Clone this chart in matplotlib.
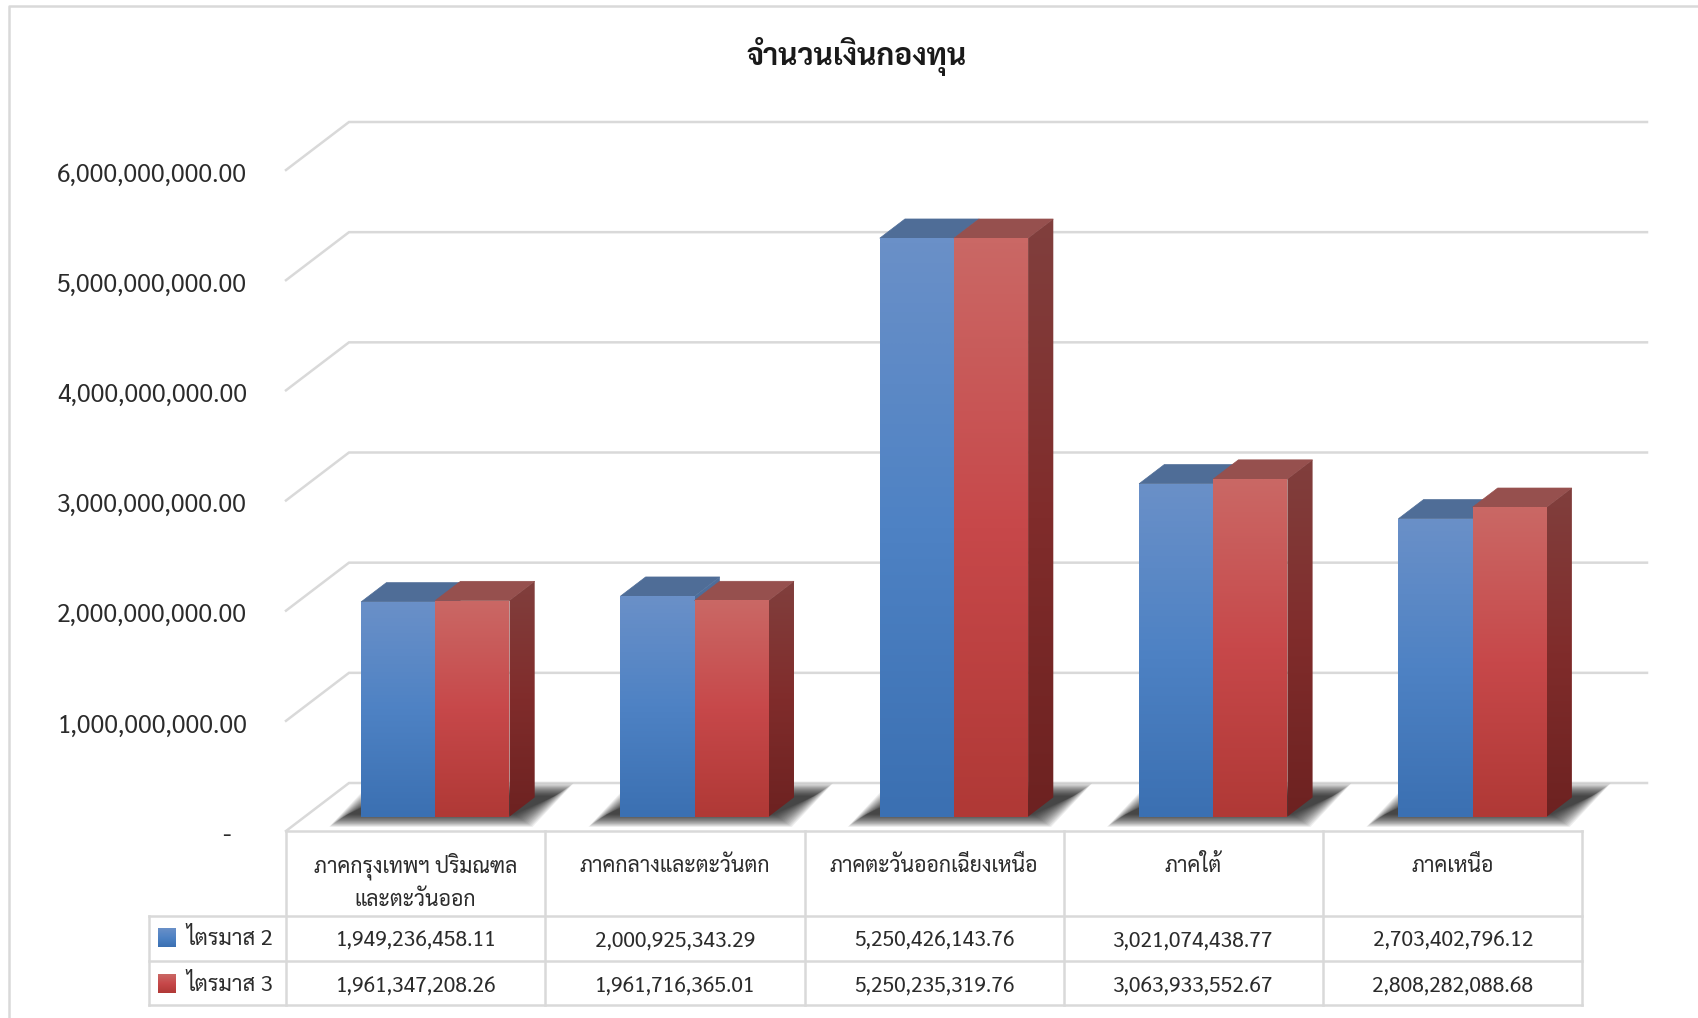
import numpy as np
import matplotlib
matplotlib.use('Agg')
import matplotlib.pyplot as plt
from matplotlib.colors import LinearSegmentedColormap
from matplotlib.patches import Polygon
from matplotlib.ticker import FuncFormatter
from matplotlib.transforms import ScaledTranslation

plt.rcParams['font.family'] = ['Sarabun', 'Loma', 'DejaVu Sans']

title = 'จำนวนเงินกองทุน'
categories = [['ภาคกรุงเทพฯ ปริมณฑล', 'และตะวันออก'], ['ภาคกลางและตะวันตก'],
              ['ภาคตะวันออกเฉียงเหนือ'], ['ภาคใต้'], ['ภาคเหนือ']]
series_names = ['ไตรมาส 2', 'ไตรมาส 3']
q2 = [1949236458.11, 2000925343.29, 5250426143.76, 3021074438.77, 2703402796.12]
q3 = [1961347208.26, 1961716365.01, 5250235319.76, 3063933552.67, 2808282088.68]
yticks = [0, 1e9, 2e9, 3e9, 4e9, 5e9, 6e9]

W, H = 1699, 1018
GRID = '#d9d9d9'
TXT = '#2b2b2b'
BLUE = ['#6a90c8', '#4e82c4', '#3b70b2']
RED = ['#ca6865', '#c7484a', '#b03936']
BLUE_SIDE = ['#4f6f9c', '#3f628f']
RED_SIDE = ['#813f3d', '#802c2b', '#6d2221']
TOPS = ['#4f6d97', '#96504e']

# pixel layout
x0, x1 = 286, 1647      # floor front left, right end of the back wall
cat_w = 259.3
y0, y6 = 831, 170       # value 0 and 6e9 on the front edge
px_per_val = (y0 - y6) / 6e9
top_px = 100

fig = plt.figure(figsize=(W / 100, H / 100), dpi=100, facecolor='white')
ax = fig.add_axes([x0 / W, 1 - y0 / H, (x1 - x0) / W, (y0 - top_px) / H])
xmax = (x1 - x0) / cat_w
ymax = (y0 - top_px) / px_per_val

# depth of the 3d wall in data units
dx = 63 / cat_w
dy = 48 / px_per_val
front_t, back_t = 0.30, 0.70
half = 0.286


def gradient(axis, verts, colors, ymin, ymax_, z=2):
    # vertical gradient clipped to a polygon
    cmap = LinearSegmentedColormap.from_list('g', colors)
    xs = [v[0] for v in verts]
    ext = (min(xs), max(xs), ymin, ymax_)
    im = axis.imshow(np.linspace(1, 0, 128).reshape(-1, 1), cmap=cmap, extent=ext,
                     aspect='auto', origin='lower', zorder=z, interpolation='bilinear')
    im.set_clip_path(Polygon(verts, closed=True, transform=axis.transData))
    return im


# walls
for v in yticks:
    ax.plot([0, dx, xmax], [v, v + dy, v + dy], color=GRID, lw=1.8, clip_on=False,
            zorder=1, solid_joinstyle='miter')

# shadow is a stack of faint parallelograms, outer ones first, to get a soft edge
n_layers = 18
layer_alpha = 1 - (1 - 0.72) ** (1 / n_layers)
offsets = np.linspace(9, -9, n_layers)

for i in range(5):
    xf = i + 0.5 + dx * front_t + 0.003
    yb = dy * front_t
    ddx = dx * (back_t - front_t)
    ddy = dy * (back_t - front_t)

    sh_h = 31 / px_per_val
    sh_dx = 41 / cat_w
    for o in offsets:
        ox = o / cat_w
        oy = 0.7 * o / px_per_val
        xl = xf - half - 23 / cat_w - ox
        xr = xf + half + 14 / cat_w + ox
        yl = yb - 4 / px_per_val - oy
        yh = yl + sh_h + 2 * oy
        ax.add_patch(Polygon([(xl, yl), (xl + sh_dx, yh), (xr + sh_dx, yh), (xr, yl)], closed=True,
                             fc='black', ec='none', alpha=layer_alpha, zorder=2))

    for j, (vals, fr, top_c) in enumerate(zip((q2, q3), (BLUE, RED), TOPS)):
        left = xf - half + j * half
        right = left + half
        top = yb + vals[i]
        # top face
        ax.add_patch(Polygon([(left, top), (left + ddx, top + ddy), (right + ddx, top + ddy), (right, top)],
                             closed=True, fc=top_c, ec=top_c, lw=0.5, zorder=3 + j))
        # side face
        side = [(right, yb), (right + ddx, yb + ddy), (right + ddx, top + ddy), (right, top)]
        gradient(ax, side, BLUE_SIDE if j == 0 else RED_SIDE, yb, top + ddy, z=3 + j)
        # front face
        front = [(left, yb), (left, top), (right, top), (right, yb)]
        gradient(ax, front, fr, yb, top, z=3 + j)

ax.set_xlim(0, xmax)
ax.set_ylim(0, ymax)
ax.patch.set_alpha(0)
for s in ax.spines.values():
    s.set_visible(False)
ax.set_xticks([])
ax.set_yticks(yticks)
ax.yaxis.set_major_formatter(FuncFormatter(lambda v, p: '-' if v == 0 else f'{v:,.2f}'))
ax.tick_params(axis='y', length=0, pad=28, labelsize=17.8, labelcolor=TXT)
for v, lab in zip(yticks, ax.get_yticklabels()):
    shift_x = -16 / 100 if v == 0 else 0
    lab.set_transform(lab.get_transform() + ScaledTranslation(shift_x, -2 / 100, fig.dpi_scale_trans))

# frame, title and data table in pixel coordinates
ov = fig.add_axes([0, 0, 1, 1])
ov.patch.set_alpha(0)
ov.axis('off')
ov.plot([9, 9, W], [H, 6, 6], color=GRID, lw=1.8)
ov.text(857, 56, title, ha='center', va='center', fontsize=21.5, fontweight='bold', color='#1a1a1a')

col_x = [x0 + cat_w * k for k in range(6)]
row_y = [831, 915.5, 960.5, 1005]
leg_x = 149
for x in col_x:
    ov.plot([x, x], [row_y[0], row_y[3]], color=GRID, lw=1.8)
ov.plot([x0, col_x[5]], [row_y[0], row_y[0]], color=GRID, lw=1.8)
for y in row_y[1:]:
    ov.plot([leg_x, col_x[5]], [y, y], color=GRID, lw=1.8)
ov.plot([leg_x, leg_x], [row_y[1], row_y[3]], color=GRID, lw=1.8)

for i, lines in enumerate(categories):
    cx = col_x[i] + cat_w / 2
    for k, line in enumerate(lines):
        ov.text(cx, 866 + k * 35, line, ha='center', va='center', fontsize=15.3, color=TXT)
    for vals, y in zip((q2, q3), (941, 987)):
        ov.text(cx, y, f'{vals[i]:,.2f}', ha='center', va='center', fontsize=15.2, color=TXT)

for name, y, col in zip(series_names, (938, 984), (BLUE, RED)):
    gradient(ov, [(158, y - 10), (176, y - 10), (176, y + 9), (158, y + 9)], col[::-1], y - 10, y + 9, z=3)
    ov.text(230, y + 1, name, ha='center', va='center', fontsize=15.8, color=TXT)

ov.set_xlim(0, W)
ov.set_ylim(H, 0)

fig.savefig('out.png', dpi=100)
